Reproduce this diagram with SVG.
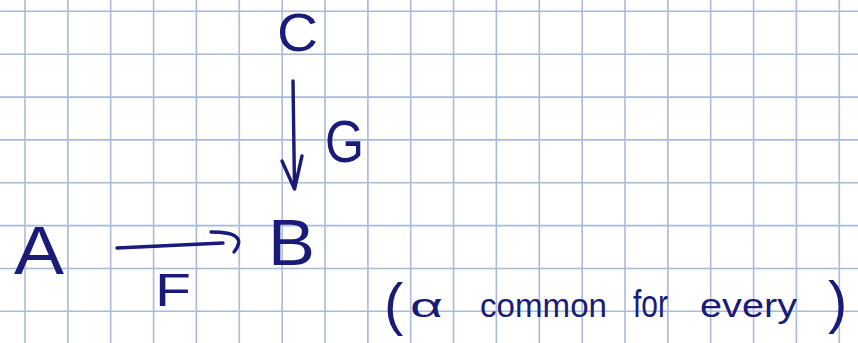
<svg xmlns="http://www.w3.org/2000/svg" width="858" height="343" viewBox="0 0 858 343">
<style>
.grid line{stroke:#a9bbd9;stroke-width:1.6}
.ink{fill:#1a1a78;font-family:"Liberation Sans",Arial,sans-serif}
.stroke{fill:none;stroke:#1a1a78;stroke-width:3.4;stroke-linecap:round;stroke-linejoin:round}
</style>
<rect width="858" height="343" fill="#ffffff"/>
<g class="grid">
<line x1="25" y1="0" x2="25" y2="343"/><line x1="67.9" y1="0" x2="67.9" y2="343"/><line x1="110.7" y1="0" x2="110.7" y2="343"/><line x1="153.6" y1="0" x2="153.6" y2="343"/><line x1="196.4" y1="0" x2="196.4" y2="343"/><line x1="239.3" y1="0" x2="239.3" y2="343"/><line x1="282.2" y1="0" x2="282.2" y2="343"/><line x1="325" y1="0" x2="325" y2="343"/><line x1="367.9" y1="0" x2="367.9" y2="343"/><line x1="410.7" y1="0" x2="410.7" y2="343"/><line x1="453.6" y1="0" x2="453.6" y2="343"/><line x1="496.4" y1="0" x2="496.4" y2="343"/><line x1="539.3" y1="0" x2="539.3" y2="343"/><line x1="582.2" y1="0" x2="582.2" y2="343"/><line x1="625" y1="0" x2="625" y2="343"/><line x1="667.9" y1="0" x2="667.9" y2="343"/><line x1="710.7" y1="0" x2="710.7" y2="343"/><line x1="753.6" y1="0" x2="753.6" y2="343"/><line x1="796.4" y1="0" x2="796.4" y2="343"/><line x1="839.3" y1="0" x2="839.3" y2="343"/>
<line x1="0" y1="11.3" x2="858" y2="11.3"/><line x1="0" y1="54.2" x2="858" y2="54.2"/><line x1="0" y1="97.1" x2="858" y2="97.1"/><line x1="0" y1="139.9" x2="858" y2="139.9"/><line x1="0" y1="182.8" x2="858" y2="182.8"/><line x1="0" y1="225.6" x2="858" y2="225.6"/><line x1="0" y1="268.5" x2="858" y2="268.5"/><line x1="0" y1="311.3" x2="858" y2="311.3"/>
</g>
<g id="connectors">
<g id="edge-G">
<path class="stroke" d="M293,81 L294.5,188"/>
<path class="stroke" d="M282,161 L294.5,189 L302,156"/>
<text class="ink" x="325" y="162" font-size="60" textLength="39" lengthAdjust="spacingAndGlyphs">G</text>
</g>
<g id="edge-F">
<path class="stroke" d="M117,248 L223,243"/>
<path class="stroke" d="M211,232 Q250,232 234,252"/>
<text class="ink" x="155" y="306" font-size="46" textLength="36" lengthAdjust="spacingAndGlyphs">F</text>
</g>
</g>
<g id="node-C"><text class="ink" x="277" y="51" font-size="54" textLength="41" lengthAdjust="spacingAndGlyphs">C</text></g>
<g id="node-A"><text class="ink" x="14" y="274" font-size="68" textLength="50" lengthAdjust="spacingAndGlyphs">A</text></g>
<g id="node-B"><text class="ink" x="268" y="265" font-size="64" textLength="47" lengthAdjust="spacingAndGlyphs">B</text></g>
<g id="note">
<text class="ink" x="384" y="324" font-size="58">(</text>
<text class="ink" x="410" y="317" font-size="34" textLength="33" lengthAdjust="spacingAndGlyphs">α</text>
<text class="ink" x="480" y="317" font-size="34" textLength="127" lengthAdjust="spacingAndGlyphs">common</text>
<text class="ink" x="633" y="317" font-size="38" textLength="35" lengthAdjust="spacingAndGlyphs">for</text>
<text class="ink" x="700" y="317" font-size="34" textLength="97" lengthAdjust="spacingAndGlyphs">every</text>
<text class="ink" x="828" y="322" font-size="58">)</text>
</g>
</svg>
